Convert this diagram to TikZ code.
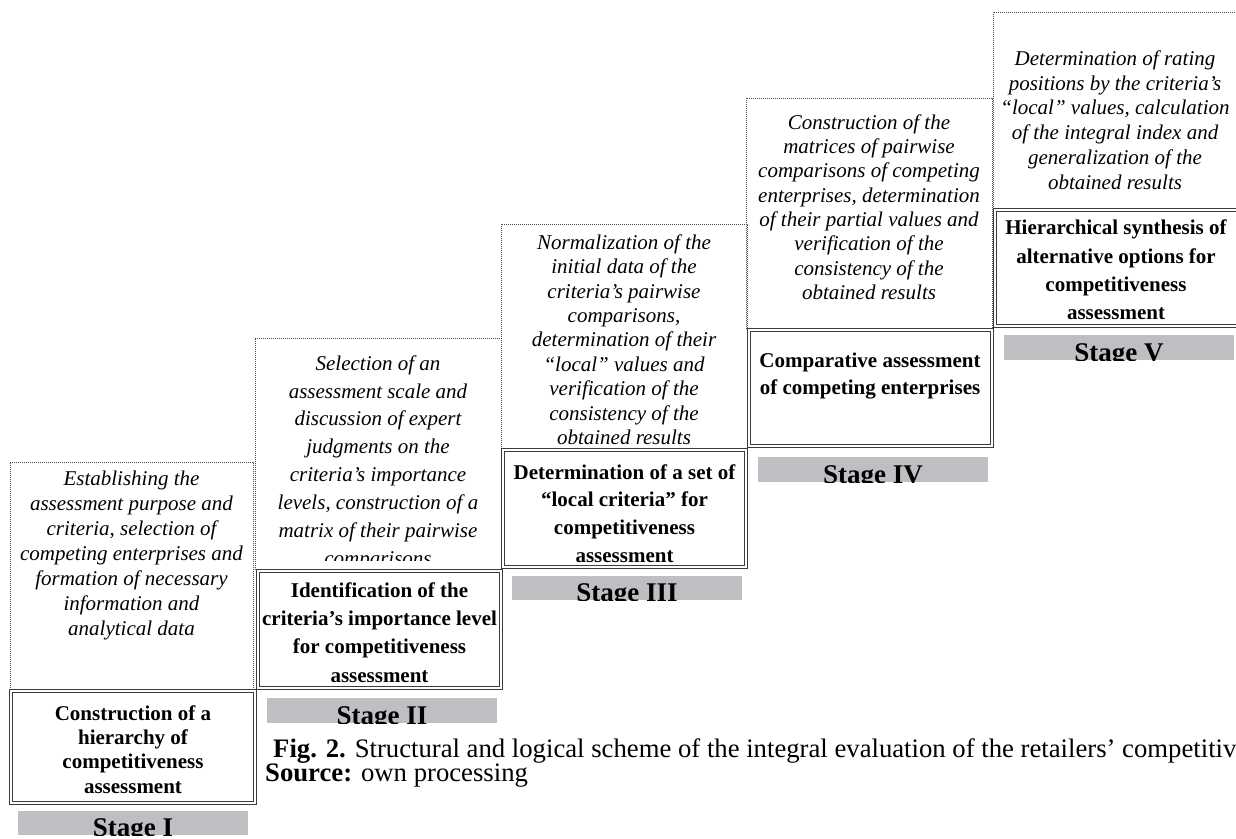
\documentclass[tikz,border=0pt]{standalone}
\usepackage{fontspec}
\setmainfont{Liberation Serif}
\definecolor{stagegray}{RGB}{191,191,195}
\definecolor{lineclr}{RGB}{60,60,60}
\begin{document}
\begin{tikzpicture}[x=1pt,y=-1pt,
  dotbox/.style={draw=black!70, line width=0.7pt, dash pattern=on 0.8pt off 1.2pt, anchor=north west, inner sep=0pt, outer sep=0pt},
  dblbox/.style={draw=lineclr, double=white, double distance=2pt, line width=0.9pt, fill=white, anchor=north west, inner sep=0pt, outer sep=0pt},
  itxt/.style={font=\fontsize{21}{25}\selectfont\itshape, align=center, inner sep=0pt},
  btxt/.style={font=\fontsize{21}{24.3}\selectfont\bfseries, align=center, inner sep=0pt},
  stagebar/.style={fill=stagegray, draw=none, anchor=north west, inner sep=0pt, outer sep=0pt},
  stxt/.style={font=\fontsize{27}{30}\selectfont\bfseries, inner sep=0pt, anchor=base},
  captxt/.style={font=\fontsize{26.7}{24}\selectfont, inner sep=0pt, anchor=base west},
]
\useasboundingbox (0,0) rectangle (1236,838);
\clip (0,0) rectangle (1236,838);

% ---------- dotted boxes ----------
\node[dotbox, minimum width=243, minimum height=227] (d1) at (10,462) {};
\node[dotbox, minimum width=246, minimum height=231] (d2) at (255,338) {};
\node[dotbox, minimum width=246, minimum height=224] (d3) at (501,224) {};
\node[dotbox, minimum width=246, minimum height=230] (d4) at (746,98) {};
\node[dotbox, minimum width=247, minimum height=196] (d5) at (993,12) {};

% ---------- italic texts ----------
\node[itxt] (t1) at (131.5,555) {Establishing the\\assessment purpose and\\criteria, selection of\\competing enterprises and\\formation of necessary\\information and\\analytical data};
\begin{scope}
\clip (255,338) rectangle (501,560);
\node[itxt, font=\fontsize{21}{27.9}\selectfont\itshape] (t2) at (378,462.6) {Selection of an\\assessment scale and\\discussion of expert\\judgments on the\\criteria’s importance\\levels, construction of a\\matrix of their pairwise\\comparisons};
\end{scope}
\node[itxt, font=\fontsize{21}{24.4}\selectfont\itshape] (t3) at (624,339.6) {Normalization of the\\initial data of the\\criteria’s pairwise\\comparisons,\\determination of their\\“local” values and\\verification of the\\consistency of the\\obtained results};
\node[itxt, font=\fontsize{21}{24.3}\selectfont\itshape] (t4) at (869,207) {Construction of the\\matrices of pairwise\\comparisons of competing\\enterprises, determination\\of their partial values and\\verification of the\\consistency of the\\obtained results};
\node[itxt, font=\fontsize{21}{24.7}\selectfont\itshape] (t5) at (1115,120) {Determination of rating\\positions by the criteria’s\\“local” values, calculation\\of the integral index and\\generalization of the\\obtained results};

% ---------- double boxes ----------
\node[dblbox, minimum width=244, minimum height=112] (b1) at (11,691) {};
\node[dblbox, minimum width=243, minimum height=117] (b2) at (258,571) {};
\node[dblbox, minimum width=243, minimum height=117] (b3) at (503,450) {};
\node[dblbox, minimum width=243, minimum height=116] (b4) at (749,330) {};
\node[dblbox, minimum width=244, minimum height=116] (b5) at (995,210) {};

% ---------- bold texts ----------
\node[btxt] (m1) at (133,749.5) {Construction of a\\hierarchy of\\competitiveness\\assessment};
\node[btxt, font=\fontsize{21}{28.3}\selectfont\bfseries] (m2) at (379.5,632.5) {Identification of the\\criteria’s importance level\\for competitiveness\\assessment};
\node[btxt, font=\fontsize{21}{27.7}\selectfont\bfseries] (m3) at (624.5,513.5) {Determination of a set of\\“local criteria” for\\competitiveness\\assessment};
\node[btxt, font=\fontsize{21}{27}\selectfont\bfseries] (m4) at (870,376) {Comparative assessment\\of competing enterprises};
\node[btxt, font=\fontsize{21}{28.3}\selectfont\bfseries] (m5) at (1116,270) {Hierarchical synthesis of\\alternative options for\\competitiveness\\assessment};

% ---------- stage bars ----------
\node[stagebar, minimum width=230, minimum height=24] (g1) at (18,811) {};
\node[stagebar, minimum width=230, minimum height=25] (g2) at (267,698) {};
\node[stagebar, minimum width=230, minimum height=24] (g3) at (512,576) {};
\node[stagebar, minimum width=230, minimum height=25] (g4) at (758,457) {};
\node[stagebar, minimum width=230, minimum height=25] (g5) at (1004,335) {};

\begin{scope}\clip (g1.north west) rectangle (g1.south east);
\node[stxt] (s1) at ([yshift=-1pt]g1.south) {Stage I};\end{scope}
\begin{scope}\clip (g2.north west) rectangle (g2.south east);
\node[stxt] (s2) at ([yshift=-1pt]g2.south) {Stage II};\end{scope}
\begin{scope}\clip (g3.north west) rectangle (g3.south east);
\node[stxt] (s3) at ([yshift=-1pt]g3.south) {Stage III};\end{scope}
\begin{scope}\clip (g4.north west) rectangle (g4.south east);
\node[stxt] (s4) at ([yshift=-1pt]g4.south) {Stage IV};\end{scope}
\begin{scope}\clip (g5.north west) rectangle (g5.south east);
\node[stxt] (s5) at ([yshift=-1pt]g5.south) {Stage V};\end{scope}

% ---------- caption ----------
\node[captxt] (cap1) at (273,757) {\textbf{Fig. 2.} Structural and logical scheme of the integral evaluation of the retailers’ competitiveness};
\node[captxt] (cap2) at (265,781) {\textbf{Source:} own processing};
\end{tikzpicture}
\end{document}
